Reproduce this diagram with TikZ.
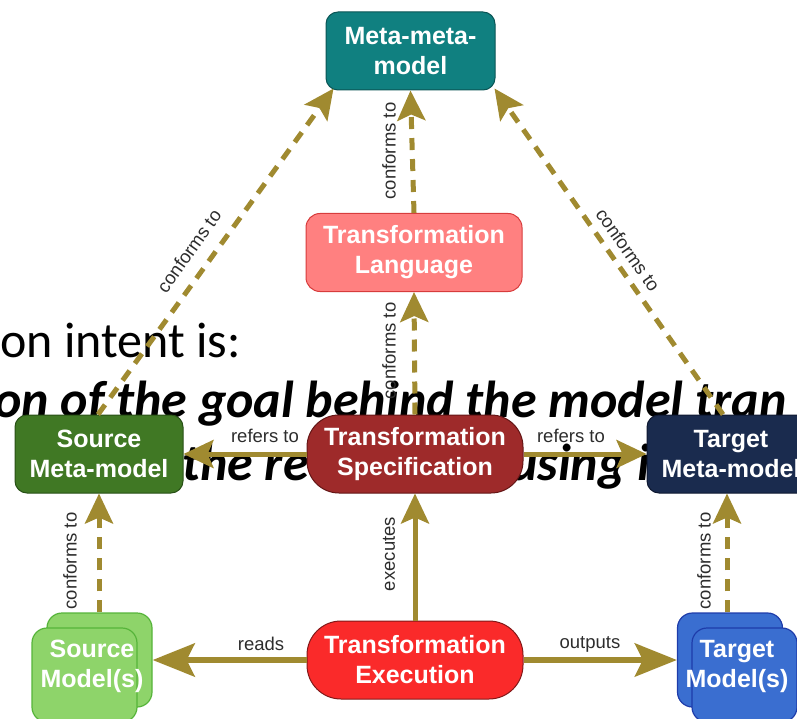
\documentclass[tikz,border=0pt]{standalone}
\usepackage{fontspec}
\setmainfont{Liberation Sans}
\newfontfamily\slidefont{Carlito}
\usetikzlibrary{arrows.meta}

\definecolor{arrowc}{RGB}{160,138,48}
\definecolor{labelc}{RGB}{45,45,45}
\definecolor{metaf}{RGB}{16,128,128}
\definecolor{metad}{RGB}{10,85,85}
\definecolor{langf}{RGB}{255,128,128}
\definecolor{langd}{RGB}{215,60,60}
\definecolor{smetaf}{RGB}{64,120,36}
\definecolor{smetad}{RGB}{40,80,22}
\definecolor{specf}{RGB}{158,42,42}
\definecolor{specd}{RGB}{100,22,22}
\definecolor{tmetaf}{RGB}{26,43,78}
\definecolor{tmetad}{RGB}{14,24,48}
\definecolor{execf}{RGB}{250,42,42}
\definecolor{execd}{RGB}{130,25,25}
\definecolor{smodf}{RGB}{142,212,106}
\definecolor{smodd}{RGB}{86,180,58}
\definecolor{tmodf}{RGB}{58,110,208}
\definecolor{tmodd}{RGB}{30,60,170}

\tikzset{
  box/.style={draw, line width=1pt, text=white, align=center,
    font=\bfseries\fontsize{25}{30}\selectfont, inner sep=0pt,
    minimum height=78pt},
  card/.style={draw, line width=1.2pt, rounded corners=15pt,
    minimum width=105pt, minimum height=94pt, inner sep=0pt},
  cardtext/.style={text=white, align=center, inner sep=0pt,
    font=\bfseries\fontsize{25}{30}\selectfont},
  lbl/.style={text=labelc, inner sep=0pt, font=\fontsize{18.5}{22}\selectfont},
  flow/.style={draw=arrowc, line width=5pt,
    -{Stealth[length=30pt,width=28pt,inset=6pt]}},
  bigflow/.style={draw=arrowc, line width=6.5pt,
    -{Stealth[length=42pt,width=33pt,inset=8pt]}},
  conform/.style={flow, dash pattern=on 12pt off 9pt},
  slideline/.style={anchor=base west, inner sep=0pt, text=black},
  slidebold/.style={slideline, font=\slidefont\bfseries\itshape\fontsize{52}{62}\selectfont},
}

\begin{document}
\begin{tikzpicture}[x=1pt,y=-1pt]
\useasboundingbox (0,0) rectangle (797,719);
\clip (0,0) rectangle (797,719);

% slide text behind the diagram
\node[slideline, font=\slidefont\fontsize{50}{60}\selectfont] (s1) at (0,357) {on intent is:};
\node[slidebold] (s2) at (-6,417) {on of the goal behind the model tran};
\node[slidebold] (s3a) at (182,480) {the re};
\node[slidebold] (s3b) at (510,480) {using i};

% model nodes
\node[box, fill=metaf, draw=metad, minimum width=169pt, rounded corners=12pt] (meta) at (410.5,51) {Meta-meta-\\model};
\node[box, fill=langf, draw=langd, minimum width=216pt, rounded corners=14pt] (lang) at (414,252.5) {Transformation\\Language};
\node[box, fill=smetaf, draw=smetad, minimum width=168pt, rounded corners=12pt] (smeta) at (99,454) {Source\\Meta-model};
\node[box, fill=specf, draw=specd, minimum width=216pt, rounded corners=32pt] (spec) at (415,454) {Transformation\\Specification};
\node[box, fill=tmetaf, draw=tmetad, minimum width=168pt, rounded corners=12pt] (tmeta) at (731,454) {Target\\Meta-model};
\node[box, fill=execf, draw=execd, minimum width=216pt, rounded corners=34pt] (exec) at (415,660) {Transformation\\Execution};

% stacked model cards
\node[card, fill=smodf, draw=smodd] (smb) at (99.5,660) {};
\node[card, fill=smodf, draw=smodd] (smf) at (84.5,675) {};
\node[cardtext] (smodels) at (92,666) {Source\\Model(s)};
\node[card, fill=tmodf, draw=tmodd] (tmb) at (730,660) {};
\node[card, fill=tmodf, draw=tmodd] (tmf) at (744.5,675) {};
\node[cardtext] (tmodels) at (737,666) {Target\\Model(s)};

% connectors
\draw[flow] (spec.west) -- (smeta.east);
\draw[flow] (spec.east) -- (tmeta.west);
\draw[flow] (exec.north) -- (spec.south);
\draw[bigflow] (exec.west) -- (smb.east);
\draw[bigflow] (exec.east) -- (tmb.west);
\draw[conform] (spec.north) -- (lang.south);
\draw[conform] (lang.north) -- (meta.south);
\draw[conform] ([xshift=-1pt]smeta.north) -- ([xshift=8pt,yshift=2pt]meta.south west);
\draw[conform] ([xshift=-8pt]tmeta.north) -- ([xshift=-1pt,yshift=2pt]meta.south east);
\draw[conform] (smb.north -| smeta.south) -- (smeta.south);
\draw[conform] (tmb.north -| 727,0) -- (tmeta.south -| 727,0);

% connector labels
\node[lbl] (l1) at (265,436) {refers to};
\node[lbl] (l2) at (571,436) {refers to};
\node[lbl] (l3) at (261,644) {reads};
\node[lbl] (l4) at (590,644) {outputs};
\node[lbl, rotate=90] (l5) at (389,554) {executes};
\node[lbl, rotate=90] (l6) at (389,351) {conforms to};
\node[lbl, rotate=90] (l7) at (389,151) {conforms to};
\node[lbl, rotate=90] (l8) at (70,561) {conforms to};
\node[lbl, rotate=90] (l9) at (704,561) {conforms to};
\node[lbl, rotate=54.5] (l10) at (189,251) {conforms to};
\node[lbl, rotate=-54.8] (l11) at (628,250) {conforms to};
\end{tikzpicture}
\end{document}
